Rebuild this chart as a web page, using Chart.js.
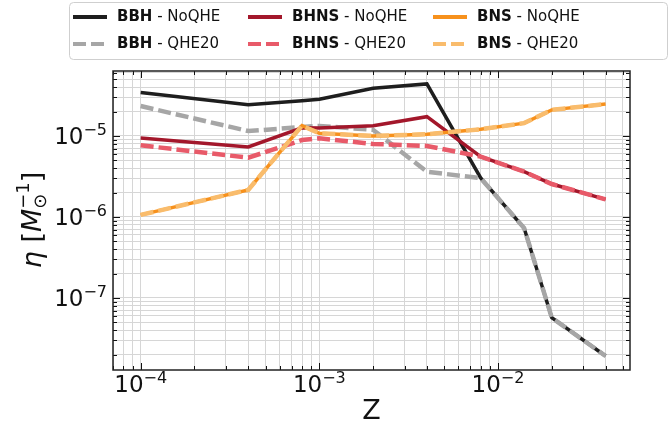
<!DOCTYPE html>
<html>
<head>
<meta charset="utf-8">
<script src="https://cdn.jsdelivr.net/npm/chart.js@4.4.0/dist/chart.umd.min.js"></script>
<style>
  body { margin: 0; background: #fff; }
  canvas { display: block; }
</style>
</head>
<body>
<canvas id="eta" width="670" height="436"></canvas>
<script>
// Metallicity grid
const metallicity = [1e-4, 4e-4, 8e-4, 1e-3, 2e-3, 4e-3, 8e-3, 1.4e-2, 2e-2, 4e-2];

// Merger efficiency eta [Msun^-1]
const bbhNoQHE  = [3.43e-5, 2.43e-5, 2.73e-5, 2.84e-5, 3.88e-5, 4.39e-5, 3.03e-6, 7.3e-7, 5.7e-8, 1.92e-8];
const bbhQHE20  = [2.34e-5, 1.15e-5, 1.29e-5, 1.33e-5, 1.19e-5, 3.62e-6, 3.01e-6, 7.3e-7, 5.7e-8, 1.92e-8];
const bhnsNoQHE = [9.45e-6, 7.32e-6, 1.26e-5, 1.25e-5, 1.34e-5, 1.73e-5, 5.56e-6, 3.62e-6, 2.55e-6, 1.65e-6];
const bhnsQHE20 = [7.67e-6, 5.39e-6, 8.9e-6, 9.35e-6, 7.97e-6, 7.53e-6, 5.56e-6, 3.62e-6, 2.55e-6, 1.65e-6];
const bnsNoQHE  = [1.06e-6, 2.16e-6, 1.34e-5, 1.08e-5, 1.0e-5, 1.05e-5, 1.21e-5, 1.44e-5, 2.10e-5, 2.48e-5];
const bnsQHE20  = [1.06e-6, 2.16e-6, 1.34e-5, 1.08e-5, 1.0e-5, 1.05e-5, 1.21e-5, 1.44e-5, 2.10e-5, 2.48e-5];

const xRange = [7.36e-5, 5.48e-2];
const yRange = [1.29e-8, 6.34e-5];

const DASH = [13, 5];

const series = [
  { type: 'BBH',  model: 'NoQHE', values: bbhNoQHE,  color: '#1e1e1e', dash: [],   width: 3.5, order: 5 },
  { type: 'BBH',  model: 'QHE20', values: bbhQHE20,  color: '#a6a6a6', dash: DASH, width: 4.5, order: 4 },
  { type: 'BHNS', model: 'NoQHE', values: bhnsNoQHE, color: '#a3172b', dash: [],   width: 3.5, order: 3 },
  { type: 'BHNS', model: 'QHE20', values: bhnsQHE20, color: '#e85a69', dash: DASH, width: 4.5, order: 2 },
  { type: 'BNS',  model: 'NoQHE', values: bnsNoQHE,  color: '#f7911c', dash: [],   width: 3.5, order: 1 },
  { type: 'BNS',  model: 'QHE20', values: bnsQHE20,  color: '#f9bc6c', dash: DASH, width: 4.5, order: 0 }
];

const isPow10 = v => Math.abs(Math.log10(v) - Math.round(Math.log10(v))) < 1e-9;

// 1..9 x 10^n ticks so the grid shows every minor decade line
function logTicks(scale) {
  const ticks = [];
  const lo = Math.floor(Math.log10(scale.min));
  const hi = Math.ceil(Math.log10(scale.max));
  for (let e = lo; e <= hi; e++) {
    for (let m = 1; m <= 9; m++) {
      const v = parseFloat((m * Math.pow(10, e)).toPrecision(6));
      if (v >= scale.min && v <= scale.max) ticks.push({ value: v, major: m === 1 });
    }
  }
  scale.ticks = ticks;
}

// "10" with a raised exponent
function drawPower(ctx, exp, x, y, align) {
  const base = '10';
  const sup = '\u2212' + Math.abs(exp);
  ctx.font = '23px "DejaVu Sans"';
  const wb = ctx.measureText(base).width;
  ctx.font = '16px "DejaVu Sans"';
  const ws = ctx.measureText(sup).width;
  let left = align === 'right' ? x - wb - ws : x - (wb + ws) / 2;
  ctx.textAlign = 'left';
  ctx.textBaseline = 'alphabetic';
  ctx.font = '23px "DejaVu Sans"';
  ctx.fillText(base, left, y);
  ctx.font = '16px "DejaVu Sans"';
  ctx.fillText(sup, left + wb, y - 9);
}

const axesPlugin = {
  id: 'axesFrame',
  afterDraw(chart) {
    const { ctx, chartArea: a, scales: { x, y } } = chart;
    ctx.save();
    ctx.strokeStyle = '#111';
    ctx.lineWidth = 1;

    // inward ticks on all four sides
    ctx.beginPath();
    x.ticks.forEach(t => {
      const px = Math.round(x.getPixelForValue(t.value)) + 0.5;
      const len = isPow10(t.value) ? 7 : 4;
      ctx.moveTo(px, a.bottom); ctx.lineTo(px, a.bottom - len);
      ctx.moveTo(px, a.top); ctx.lineTo(px, a.top + len);
    });
    y.ticks.forEach(t => {
      const py = Math.round(y.getPixelForValue(t.value)) + 0.5;
      const len = isPow10(t.value) ? 7 : 4;
      ctx.moveTo(a.left, py); ctx.lineTo(a.left + len, py);
      ctx.moveTo(a.right, py); ctx.lineTo(a.right - len, py);
    });
    ctx.stroke();

    ctx.strokeStyle = '#222';
    ctx.lineWidth = 1.5;
    ctx.strokeRect(a.left, a.top, a.right - a.left, a.bottom - a.top);

    // tick labels
    ctx.fillStyle = '#111';
    x.ticks.filter(t => isPow10(t.value)).forEach(t => {
      drawPower(ctx, Math.round(Math.log10(t.value)), x.getPixelForValue(t.value), a.bottom + 22, 'center');
    });
    y.ticks.filter(t => isPow10(t.value)).forEach(t => {
      drawPower(ctx, Math.round(Math.log10(t.value)), a.left - 6, y.getPixelForValue(t.value) + 8.5, 'right');
    });

    // axis titles
    ctx.font = '27px "DejaVu Sans"';
    ctx.textAlign = 'center';
    ctx.fillText('Z', (a.left + a.right) / 2, 419);

    ctx.save();
    ctx.translate(41, 220);
    ctx.rotate(-Math.PI / 2);
    const parts = [
      { t: '\u03b7', f: 'italic 27px "DejaVu Sans"', dy: 0 },
      { t: ' [', f: '27px "DejaVu Sans"', dy: 0 },
      { t: 'M', f: 'italic 27px "DejaVu Sans"', dy: 0 },
      { t: '\u2299', f: '18px "DejaVu Sans"', dy: 5 },
      { t: '\u22121', f: '18px "DejaVu Sans"', dy: -12 },
      { t: ']', f: '27px "DejaVu Sans"', dy: 0 }
    ];
    const widths = parts.map(p => { ctx.font = p.f; return ctx.measureText(p.t).width; });
    // sub and superscript share one slot
    const slot = Math.max(widths[3], widths[4]);
    const total = widths[0] + widths[1] + widths[2] + slot + widths[5];
    let cx = -total / 2;
    ctx.textAlign = 'left';
    parts.forEach((p, i) => {
      ctx.font = p.f;
      ctx.fillText(p.t, cx, p.dy);
      if (i === 3) return;
      cx += i === 4 ? slot : widths[i];
    });
    ctx.restore();

    // legend
    ctx.fillStyle = '#fff';
    ctx.strokeStyle = '#cfcfcf';
    ctx.lineWidth = 1;
    ctx.beginPath();
    ctx.roundRect(69.5, 2.5, 598, 57, 4);
    ctx.fill();
    ctx.stroke();
    const colX = { BBH: 73, BHNS: 248, BNS: 433 };
    const rowY = { NoQHE: 17, QHE20: 44 };
    ctx.textAlign = 'left';
    ctx.textBaseline = 'middle';
    series.forEach(s => {
      const lx = colX[s.type], ly = rowY[s.model];
      ctx.strokeStyle = s.color;
      ctx.lineWidth = 4;
      ctx.setLineDash(s.dash);
      ctx.beginPath();
      ctx.moveTo(lx, ly); ctx.lineTo(lx + 34, ly);
      ctx.stroke();
      ctx.setLineDash([]);
      ctx.fillStyle = '#111';
      ctx.font = 'bold 15px "DejaVu Sans"';
      ctx.fillText(s.type, lx + 44, ly);
      const w = ctx.measureText(s.type).width;
      ctx.font = '15px "DejaVu Sans"';
      ctx.fillText(' - ' + s.model, lx + 44 + w, ly);
    });
    ctx.restore();
  }
};

const gridStyle = { color: '#d6d6d6', lineWidth: 1, drawTicks: false };

new Chart(document.getElementById('eta'), {
  type: 'line',
  data: {
    datasets: series.map(s => ({
      label: s.type + ' - ' + s.model,
      data: metallicity.map((z, i) => ({ x: z, y: s.values[i] })),
      borderColor: s.color,
      borderWidth: s.width,
      borderDash: s.dash,
      order: s.order,
      pointRadius: 0,
      tension: 0,
      fill: false
    }))
  },
  options: {
    responsive: false,
    animation: false,
    layout: { padding: { left: 113, right: 40, top: 71, bottom: 66 } },
    plugins: { legend: { display: false }, tooltip: { enabled: false } },
    scales: {
      x: {
        type: 'logarithmic', min: xRange[0], max: xRange[1],
        afterBuildTicks: logTicks,
        ticks: { display: false },
        grid: gridStyle,
        border: { display: false }
      },
      y: {
        type: 'logarithmic', min: yRange[0], max: yRange[1],
        afterBuildTicks: logTicks,
        ticks: { display: false },
        grid: gridStyle,
        border: { display: false }
      }
    }
  },
  plugins: [axesPlugin]
});
</script>
</body>
</html>
